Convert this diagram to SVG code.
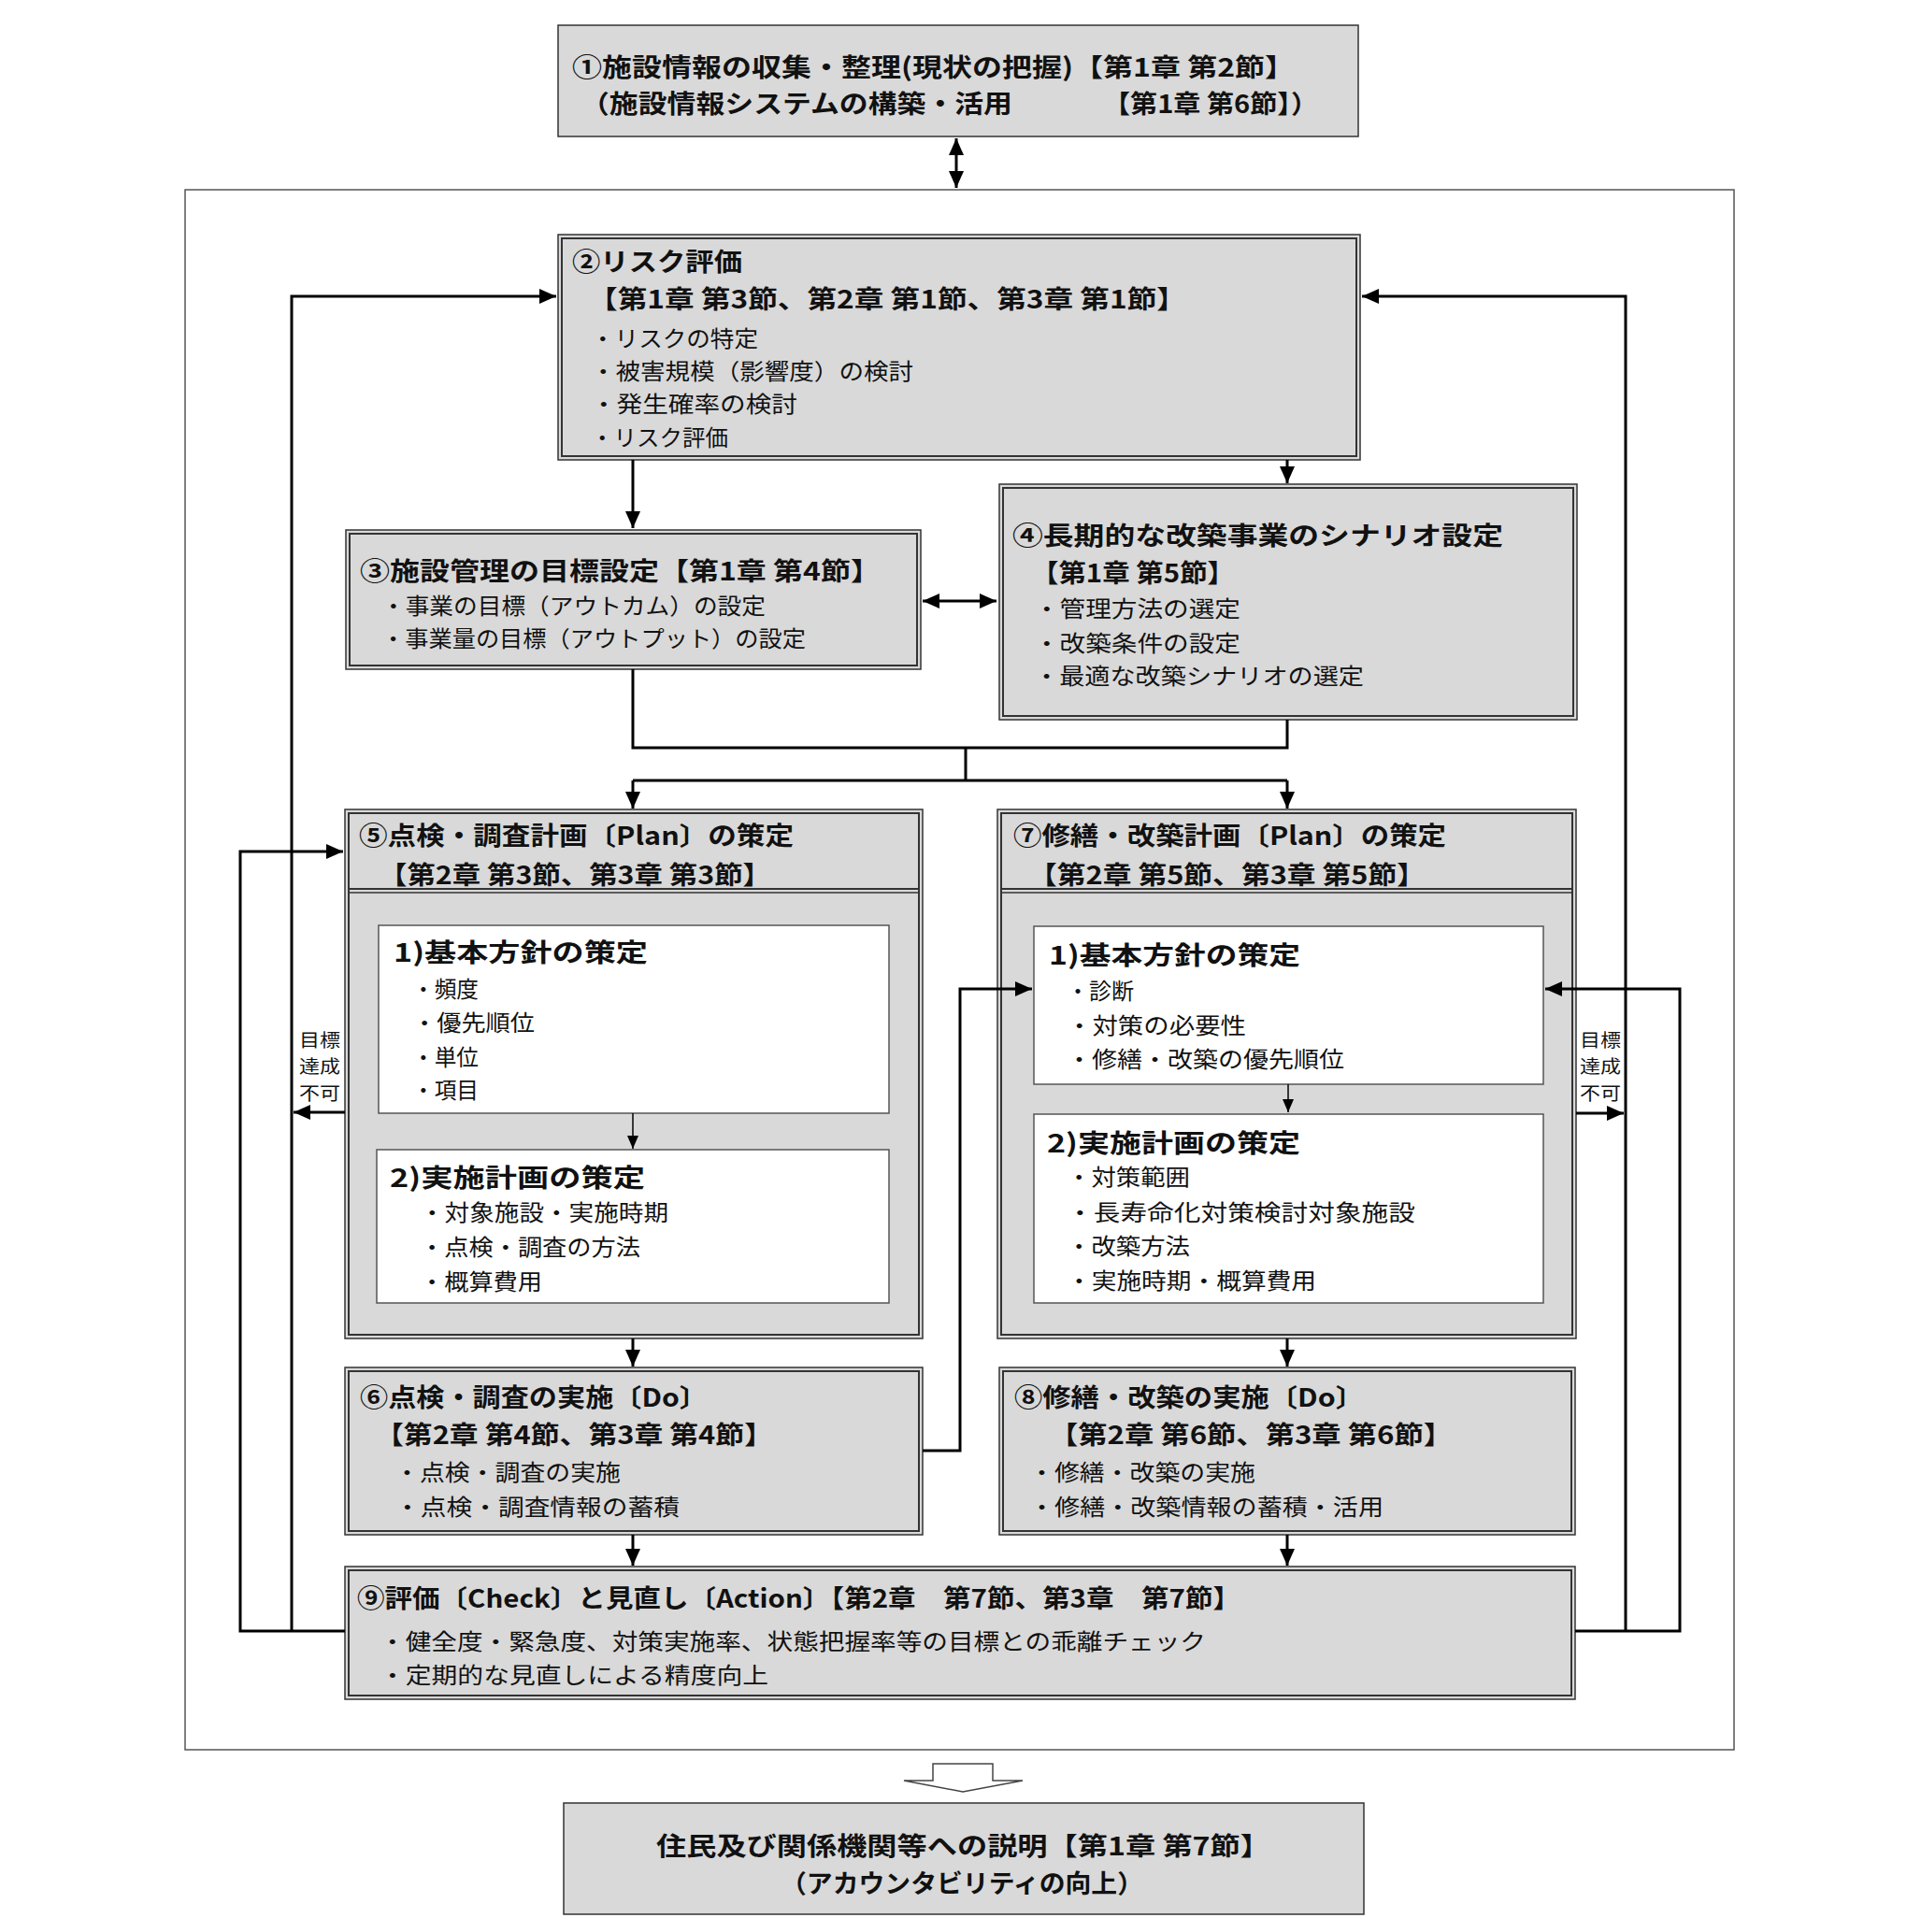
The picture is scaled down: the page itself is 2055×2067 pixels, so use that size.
<svg xmlns="http://www.w3.org/2000/svg" width="2055" height="2067" viewBox="0 0 2055 2067">
<style>
text{font-family:"Noto Sans CJK JP","Noto Sans CJK SC",sans-serif;fill:#111}
.h{font-size:27px;font-weight:bold}
.b{font-size:24px}
.s{font-size:19px}
.box{fill:#d9d9d9;stroke:#333;stroke-width:1.5}
.inn{fill:none;stroke:#333;stroke-width:2}
.wbox{fill:#fff;stroke:#555;stroke-width:1.5}
.c{fill:none;stroke:#000;stroke-width:3}
.ct{fill:none;stroke:#000;stroke-width:1.5}
</style>
<defs>
<marker id="a" markerUnits="userSpaceOnUse" markerWidth="18" markerHeight="16" refX="18" refY="8" orient="auto-start-reverse"><path d="M0,0 L18,8 L0,16 z" fill="#000"/></marker>
<marker id="as" markerUnits="userSpaceOnUse" markerWidth="14" markerHeight="12" refX="14" refY="6" orient="auto"><path d="M0,0 L14,6 L0,12 z" fill="#000"/></marker>
</defs>
<rect width="2055" height="2067" fill="#fff"/>
<rect id="frame" x="198" y="203" width="1657" height="1669" fill="none" stroke="#555" stroke-width="1.5"/>

<g id="n1">
<rect class="box" x="597" y="27" width="856" height="119"/>
<text class="h" x="612" y="82" textLength="773" lengthAdjust="spacingAndGlyphs">①施設情報の収集・整理(現状の把握)【第1章 第2節】</text>
<text class="h" x="621" y="121" textLength="462" lengthAdjust="spacingAndGlyphs">（施設情報システムの構築・活用</text>
<text class="h" x="1180" y="121" textLength="230" lengthAdjust="spacingAndGlyphs">【第1章 第6節】）</text>
</g>

<g id="n2">
<rect class="box" x="597" y="251" width="858" height="241"/>
<rect class="inn" x="601" y="255" width="850" height="233"/>
<text class="h" x="612" y="290" textLength="182" lengthAdjust="spacingAndGlyphs">②リスク評価</text>
<text class="h" x="629" y="330" textLength="640" lengthAdjust="spacingAndGlyphs">【第1章 第3節、第2章  第1節、第3章 第1節】</text>
<text class="b" x="632" y="371" textLength="179" lengthAdjust="spacingAndGlyphs">・リスクの特定</text>
<text class="b" x="632" y="406" textLength="345" lengthAdjust="spacingAndGlyphs">・被害規模（影響度）の検討</text>
<text class="b" x="632" y="441" textLength="221" lengthAdjust="spacingAndGlyphs">・発生確率の検討</text>
<text class="b" x="632" y="477" textLength="147" lengthAdjust="spacingAndGlyphs">・リスク評価</text>
</g>

<g id="n3">
<rect class="box" x="370" y="567" width="615" height="149"/>
<rect class="inn" x="374" y="571" width="607" height="141"/>
<text class="h" x="385" y="621" textLength="557" lengthAdjust="spacingAndGlyphs">③施設管理の目標設定【第1章 第4節】</text>
<text class="b" x="408" y="657" textLength="411" lengthAdjust="spacingAndGlyphs">・事業の目標（アウトカム）の設定</text>
<text class="b" x="408" y="692" textLength="454" lengthAdjust="spacingAndGlyphs">・事業量の目標（アウトプット）の設定</text>
</g>

<g id="n4">
<rect class="box" x="1069" y="518" width="618" height="252"/>
<rect class="inn" x="1073" y="522" width="610" height="244"/>
<text class="h" x="1083" y="583" textLength="525" lengthAdjust="spacingAndGlyphs">④長期的な改築事業のシナリオ設定</text>
<text class="h" x="1103" y="623" textLength="218" lengthAdjust="spacingAndGlyphs">【第1章 第5節】</text>
<text class="b" x="1106" y="660" textLength="221" lengthAdjust="spacingAndGlyphs">・管理方法の選定</text>
<text class="b" x="1106" y="697" textLength="221" lengthAdjust="spacingAndGlyphs">・改築条件の設定</text>
<text class="b" x="1106" y="732" textLength="353" lengthAdjust="spacingAndGlyphs">・最適な改築シナリオの選定</text>
</g>

<g id="n5">
<rect class="box" x="369" y="866" width="618" height="566"/>
<rect class="inn" x="373" y="870" width="610" height="558"/>
<line x1="373" y1="951" x2="983" y2="951" stroke="#333" stroke-width="2"/>
<line x1="373" y1="955" x2="983" y2="955" stroke="#333" stroke-width="1.5"/>
<text class="h" x="384" y="904" textLength="465" lengthAdjust="spacingAndGlyphs">⑤点検・調査計画〔Plan〕の策定</text>
<text class="h" x="405" y="946" textLength="420" lengthAdjust="spacingAndGlyphs">【第2章 第3節、第3章 第3節】</text>
<rect class="wbox" x="405" y="990" width="546" height="201"/>
<text class="h" x="421" y="1029" textLength="272" lengthAdjust="spacingAndGlyphs">1)基本方針の策定</text>
<text class="b" x="441" y="1067" textLength="71" lengthAdjust="spacingAndGlyphs">・頻度</text>
<text class="b" x="441" y="1103" textLength="131" lengthAdjust="spacingAndGlyphs">・優先順位</text>
<text class="b" x="441" y="1140" textLength="71" lengthAdjust="spacingAndGlyphs">・単位</text>
<text class="b" x="441" y="1175" textLength="71" lengthAdjust="spacingAndGlyphs">・項目</text>
<rect class="wbox" x="403" y="1230" width="548" height="164"/>
<text class="h" x="417" y="1270" textLength="273" lengthAdjust="spacingAndGlyphs">2)実施計画の策定</text>
<text class="b" x="449" y="1306" textLength="266" lengthAdjust="spacingAndGlyphs">・対象施設・実施時期</text>
<text class="b" x="449" y="1343" textLength="236" lengthAdjust="spacingAndGlyphs">・点検・調査の方法</text>
<text class="b" x="449" y="1380" textLength="131" lengthAdjust="spacingAndGlyphs">・概算費用</text>
</g>

<g id="n7">
<rect class="box" x="1067" y="866" width="619" height="566"/>
<rect class="inn" x="1071" y="870" width="611" height="558"/>
<line x1="1071" y1="951" x2="1682" y2="951" stroke="#333" stroke-width="2"/>
<line x1="1071" y1="955" x2="1682" y2="955" stroke="#333" stroke-width="1.5"/>
<text class="h" x="1084" y="904" textLength="463" lengthAdjust="spacingAndGlyphs">⑦修繕・改築計画〔Plan〕の策定</text>
<text class="h" x="1100" y="946" textLength="425" lengthAdjust="spacingAndGlyphs">【第2章 第5節、第3章 第5節】</text>
<rect class="wbox" x="1106" y="991" width="545" height="169"/>
<text class="h" x="1122" y="1032" textLength="269" lengthAdjust="spacingAndGlyphs">1)基本方針の策定</text>
<text class="b" x="1141" y="1069" textLength="72" lengthAdjust="spacingAndGlyphs">・診断</text>
<text class="b" x="1141" y="1106" textLength="192" lengthAdjust="spacingAndGlyphs">・対策の必要性</text>
<text class="b" x="1141" y="1142" textLength="297" lengthAdjust="spacingAndGlyphs">・修繕・改築の優先順位</text>
<rect class="wbox" x="1106" y="1192" width="545" height="202"/>
<text class="h" x="1120" y="1233" textLength="271" lengthAdjust="spacingAndGlyphs">2)実施計画の策定</text>
<text class="b" x="1141" y="1268" textLength="132" lengthAdjust="spacingAndGlyphs">・対策範囲</text>
<text class="b" x="1141" y="1306" textLength="373" lengthAdjust="spacingAndGlyphs">・長寿命化対策検討対象施設</text>
<text class="b" x="1141" y="1342" textLength="132" lengthAdjust="spacingAndGlyphs">・改築方法</text>
<text class="b" x="1141" y="1379" textLength="267" lengthAdjust="spacingAndGlyphs">・実施時期・概算費用</text>
</g>

<g id="lbl-left">
<text class="s" x="320" y="1120" textLength="44" lengthAdjust="spacingAndGlyphs">目標</text>
<text class="s" x="320" y="1148" textLength="44" lengthAdjust="spacingAndGlyphs">達成</text>
<text class="s" x="320" y="1177" textLength="44" lengthAdjust="spacingAndGlyphs">不可</text>
</g>
<g id="lbl-right">
<text class="s" x="1690" y="1120" textLength="44" lengthAdjust="spacingAndGlyphs">目標</text>
<text class="s" x="1690" y="1148" textLength="44" lengthAdjust="spacingAndGlyphs">達成</text>
<text class="s" x="1690" y="1177" textLength="44" lengthAdjust="spacingAndGlyphs">不可</text>
</g>

<g id="n6">
<rect class="box" x="369" y="1463" width="618" height="179"/>
<rect class="inn" x="373" y="1467" width="610" height="171"/>
<text class="h" x="385" y="1505" textLength="372" lengthAdjust="spacingAndGlyphs">⑥点検・調査の実施〔Do〕</text>
<text class="h" x="401" y="1545" textLength="426" lengthAdjust="spacingAndGlyphs">【第2章 第4節、第3章 第4節】</text>
<text class="b" x="422" y="1584" textLength="242" lengthAdjust="spacingAndGlyphs">・点検・調査の実施</text>
<text class="b" x="422" y="1621" textLength="305" lengthAdjust="spacingAndGlyphs">・点検・調査情報の蓄積</text>
</g>

<g id="n8">
<rect class="box" x="1069" y="1463" width="616" height="179"/>
<rect class="inn" x="1073" y="1467" width="608" height="171"/>
<text class="h" x="1085" y="1505" textLength="374" lengthAdjust="spacingAndGlyphs">⑧修繕・改築の実施〔Do〕</text>
<text class="h" x="1122" y="1545" textLength="432" lengthAdjust="spacingAndGlyphs">【第2章 第6節、第3章 第6節】</text>
<text class="b" x="1101" y="1584" textLength="242" lengthAdjust="spacingAndGlyphs">・修繕・改築の実施</text>
<text class="b" x="1101" y="1621" textLength="379" lengthAdjust="spacingAndGlyphs">・修繕・改築情報の蓄積・活用</text>
</g>

<g id="n9">
<rect class="box" x="369" y="1676" width="1316" height="142"/>
<rect class="inn" x="373" y="1680" width="1308" height="134"/>
<text class="h" x="382" y="1720" textLength="945" lengthAdjust="spacingAndGlyphs">⑨評価〔Check〕と見直し〔Action〕【第2章　第7節、第3章　第7節】</text>
<text class="b" x="406" y="1765" textLength="884" lengthAdjust="spacingAndGlyphs">・健全度・緊急度、対策実施率、状態把握率等の目標との乖離チェック</text>
<text class="b" x="406" y="1801" textLength="416" lengthAdjust="spacingAndGlyphs">・定期的な見直しによる精度向上</text>
</g>

<g id="n10">
<rect class="box" x="603" y="1929" width="856" height="119"/>
<text class="h" x="702" y="1985" textLength="657" lengthAdjust="spacingAndGlyphs">住民及び関係機関等への説明【第1章 第7節】</text>
<text class="h" x="835" y="2025" textLength="388" lengthAdjust="spacingAndGlyphs">（アカウンタビリティの向上）</text>
</g>

<g id="connectors">
<path class="c" d="M1023,148 L1023,201" marker-start="url(#a)" marker-end="url(#a)"/>
<path class="c" d="M369,1745 L257,1745 L257,911 L367,911" marker-end="url(#a)"/>
<path class="c" d="M312,1745 L312,317 L595,317" marker-end="url(#a)"/>
<path class="c" d="M1685,1745 L1797,1745 L1797,1058 L1653,1058" marker-end="url(#a)"/>
<path class="c" d="M1739,1745 L1739,317 L1457,317" marker-end="url(#a)"/>
<path class="c" d="M677,492 L677,565" marker-end="url(#a)"/>
<path class="c" d="M1377,492 L1377,517" marker-end="url(#a)"/>
<path class="c" d="M987,643 L1066,643" marker-start="url(#a)" marker-end="url(#a)"/>
<path class="c" d="M677,716 L677,800 L1377,800 L1377,770"/>
<path class="c" d="M1033,800 L1033,835"/>
<path class="c" d="M677,835 L1377,835"/>
<path class="c" d="M677,835 L677,865" marker-end="url(#a)"/>
<path class="c" d="M1377,835 L1377,865" marker-end="url(#a)"/>
<path class="ct" d="M677,1191 L677,1229" marker-end="url(#as)"/>
<path class="ct" d="M1378,1160 L1378,1190" marker-end="url(#as)"/>
<path class="c" d="M369,1190 L314,1190" marker-end="url(#a)"/>
<path class="c" d="M1686,1191 L1737,1191" marker-end="url(#a)"/>
<path class="c" d="M677,1432 L677,1462" marker-end="url(#a)"/>
<path class="c" d="M1377,1432 L1377,1462" marker-end="url(#a)"/>
<path class="c" d="M987,1552 L1027,1552 L1027,1058 L1104,1058" marker-end="url(#a)"/>
<path class="c" d="M677,1642 L677,1675" marker-end="url(#a)"/>
<path class="c" d="M1377,1642 L1377,1675" marker-end="url(#a)"/>
<polygon points="998,1887 1062,1887 1062,1905 1094,1905 1030,1917 967,1905 998,1905" fill="#fff" stroke="#444" stroke-width="1.5"/>
</g>
</svg>
